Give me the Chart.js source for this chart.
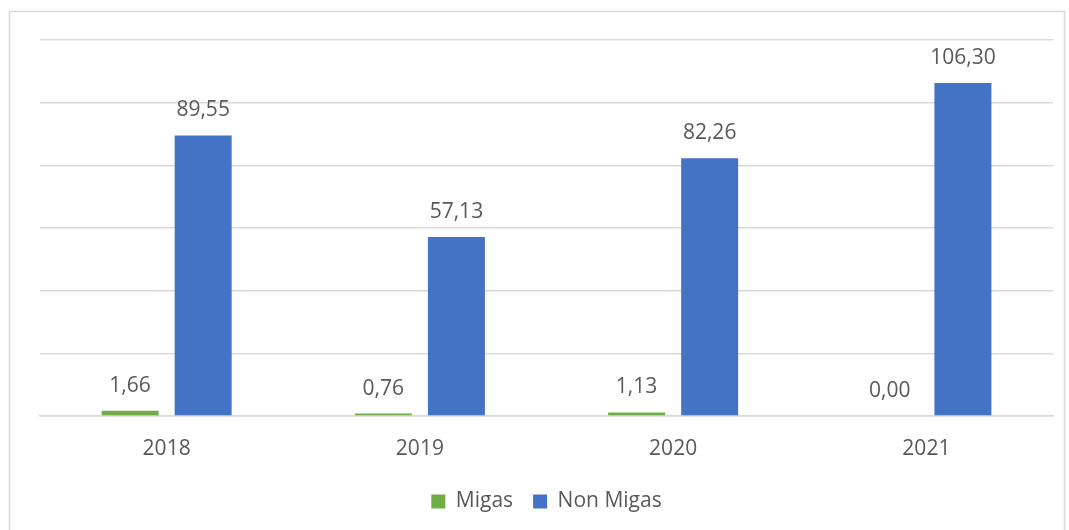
<!DOCTYPE html>
<html>
<head>
<meta charset="utf-8">
<script src="https://cdn.jsdelivr.net/npm/chart.js@4"></script>
<style>
  html, body { margin: 0; padding: 0; background: #fff; }
  #wrap { width: 1069px; height: 530px; position: relative; }
</style>
</head>
<body>
<div id="wrap"><canvas id="chart" width="1069" height="530"></canvas></div>
<script>
const years = ['2018', '2019', '2020', '2021'];
const migas = [1.66, 0.76, 1.13, 0.00];
const nonMigas = [89.55, 57.13, 82.26, 106.30];

const fontFamily = "'Open Sans', 'Liberation Sans', sans-serif";
const textColor = '#595959';

// frame around the chart (like the Excel chart border)
const framePlugin = {
    id: 'frame',
    beforeDraw(chart) {
        const ctx = chart.ctx;
        ctx.save();
        ctx.strokeStyle = '#d9d9d9';
        ctx.lineWidth = 1.5;
        ctx.strokeRect(9.5, 11.5, 1055, 540);
        ctx.restore();
    }
};

// value labels above bars, comma decimal
const labelPlugin = {
    id: 'valueLabels',
    afterDatasetsDraw(chart) {
        const ctx = chart.ctx;
        ctx.save();
        ctx.font = '21px ' + fontFamily;
        ctx.fillStyle = textColor;
        ctx.textAlign = 'center';
        ctx.textBaseline = 'middle';
        chart.data.datasets.forEach((ds, i) => {
            chart.getDatasetMeta(i).data.forEach((bar, j) => {
                const txt = ds.data[j].toFixed(2).replace('.', ',');
                ctx.fillText(txt, bar.x, bar.y - 25);
            });
        });
        ctx.restore();
    }
};

new Chart(document.getElementById('chart'), {
    type: 'bar',
    data: {
        labels: years,
        datasets: [
            { label: 'Migas', data: migas, backgroundColor: '#70AD47' },
            { label: 'Non Migas', data: nonMigas, backgroundColor: '#4472C4' }
        ]
    },
    options: {
        responsive: false,
        animation: false,
        categoryPercentage: 0.577,
        barPercentage: 0.78,
        layout: { padding: { left: 40, right: 16, top: 40, bottom: 8 } },
        plugins: {
            legend: {
                position: 'bottom',
                labels: {
                    boxWidth: 14,
                    boxHeight: 14,
                    padding: 20,
                    color: textColor,
                    font: { family: fontFamily, size: 21 }
                }
            },
            tooltip: { enabled: false }
        },
        scales: {
            x: {
                grid: { display: false },
                border: { color: '#d9d9d9', width: 1.5 },
                ticks: { color: textColor, font: { family: fontFamily, size: 21 }, padding: 12 },
                afterFit(scale) { scale.height = 55; }
            },
            y: {
                min: 0,
                max: 120,
                ticks: { stepSize: 20, display: false },
                grid: { color: '#d9d9d9', lineWidth: 1.5, drawTicks: false },
                border: { display: false },
                afterFit(scale) { scale.width = 0; }
            }
        }
    },
    plugins: [framePlugin, labelPlugin]
});
</script>
</body>
</html>
